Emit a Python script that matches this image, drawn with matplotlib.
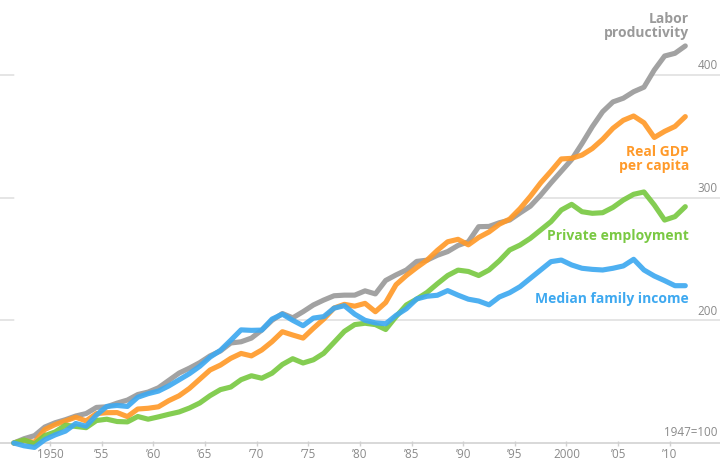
import matplotlib
matplotlib.use("Agg")
import matplotlib.pyplot as plt
import matplotlib.transforms as mtransforms
import numpy as np

years = list(range(1947, 2013))

productivity = [100, 103.5, 106, 113, 116.5, 119, 122, 124, 129, 129.5,
                132.5, 135, 139.5, 141.5, 145, 151, 157, 161, 165.5, 171,
                175, 181.5, 182.5, 185.5, 192, 200, 205.5, 202, 207, 212.5,
                216.5, 220, 220.5, 220.5, 224, 221.5, 232.5, 237, 241, 248,
                249, 253, 256, 261, 264, 276.3, 276.5, 279.5, 281.7, 287.5,
                293, 302, 312, 321.5, 331, 344, 357.8, 370, 378, 381,
                386.3, 390, 404, 415.4, 417.6, 423.6]

gdp_per_capita = [100, 102, 100.5, 111, 115, 118, 121, 118, 124, 124.7,
                  124.8, 121.5, 127.7, 128.3, 129.5, 134.5, 138.5, 144.5, 152, 159.5,
                  163.5, 169, 173, 171, 175.8, 182.6, 190.7, 188, 185.5, 193.5,
                  201, 210, 213, 211.5, 213.8, 207, 214.5, 229, 236.5, 243,
                  249, 257, 264, 266, 261.5, 267.5, 272, 278.3, 282.5, 291,
                  301, 312, 321.5, 331.5, 332, 334.7, 340, 347.5, 356.5, 363,
                  366.5, 361, 349, 354, 358, 366]

private_employment = [100, 102.5, 99.2, 106, 109, 114.5, 113.5, 112.5, 118.3, 119.4,
                      117.5, 117.2, 121.6, 119.4, 121.3, 123.4, 125.3, 128.5, 132.6, 138.6,
                      143.5, 145.6, 151.6, 154.8, 152.8, 156.9, 164, 168.7, 165.2, 167.8,
                      173.1, 182, 191, 196.5, 197.6, 196.5, 192.5, 203, 212.5, 217.3,
                      222.7, 229.8, 236.5, 240.9, 239.8, 236.5, 241, 248.5, 257.3, 261.3,
                      266.8, 273.6, 280.4, 289.9, 294.5, 288.5, 287.2, 287.7, 292, 298,
                      302.7, 304.6, 294, 281.7, 284.5, 292.6]

median_income = [100, 97.7, 96.4, 102.7, 106.6, 109.7, 115.9, 113.7, 122.8, 129.8,
                 130.6, 129.8, 137.3, 140.2, 142.3, 146.5, 151.5, 156.5, 162.5, 170,
                 175.5, 183.7, 192.2, 191.8, 192, 201, 205, 200, 195.6, 201.8,
                 203, 209.9, 211.9, 205, 200, 197.9, 197.2, 204, 209.4, 217.4,
                 219.6, 220.4, 224.2, 220.5, 217.2, 215.7, 212.6, 219, 222.5, 227.4,
                 234.2, 241, 247.8, 249.1, 245.1, 242.4, 241.5, 241, 242.4, 244.3,
                 249.7, 241, 236.1, 232.3, 228.2, 228.2]

tick_years = [1950, 1955, 1960, 1965, 1970, 1975, 1980, 1985, 1990, 1995, 2000, 2005, 2010]
tick_labels = ["1950", "\u201955", "\u201960", "\u201965", "\u201970", "\u201975", "\u201980",
               "\u201985", "\u201990", "\u201995", "2000", "\u201905", "\u201910"]
grid_values = [200, 300, 400]
grid_labels = ["200", "300", "400"]
base_label = "1947=100"

C_GRAY = "#9a9a9a"
C_ORANGE = "#ff9a2a"
C_GREEN = "#7ac943"
C_BLUE = "#3fa9f0"
C_TEXT = "#8a8a8a"

plt.rcParams["font.family"] = ["Open Sans", "DejaVu Sans"]

fig = plt.figure(figsize=(7.2, 4.63), dpi=100)
ax = fig.add_axes([0, 0, 1, 1])
ax.set_xlim(1945.664, 2015.36)
ax.set_ylim(83.70, 461.04)
ax.axis("off")

# gridlines and baseline
for v in grid_values:
    ax.axhline(v, color="#e3e3e3", lw=1.3, zorder=1)
ax.axhline(100, color="#d6d6d6", lw=1.3, zorder=1)
# gridlines hidden above the top series
ax.fill_between(years, productivity, 470, color="white", lw=0, zorder=1.5)

# tick marks and labels
tx = [t + 0.5 for t in tick_years]
ax.vlines(tx, 100 - 3.5 / 1.227, 100 + 1.5 / 1.227, color="#d0d0d0", lw=1.0, zorder=1)
for x, lab in zip(tx, tick_labels):
    ax.text(x, 100 - 11.5 / 1.227, lab, ha="center", va="center",
            fontsize=8.4, color=C_TEXT)

trans = mtransforms.blended_transform_factory(ax.transAxes, ax.transData)
for v, lab in zip(grid_values, grid_labels):
    ax.text(0.997, v + 2.5 / 1.227, lab, transform=trans, ha="right", va="bottom",
            fontsize=8.4, color=C_TEXT)
ax.text(0.997, 100 + 3.5 / 1.227, base_label, transform=trans, ha="right", va="bottom",
        fontsize=8.4, color=C_TEXT)

lw = 3.7
alpha = 0.92
for series, col in [(productivity, C_GRAY), (gdp_per_capita, C_ORANGE),
                    (private_employment, C_GREEN), (median_income, C_BLUE)]:
    ax.plot(years, series, color=col, lw=lw, alpha=alpha, solid_joinstyle="round",
            solid_capstyle="round", zorder=3)

lx = 2012.36
def y_of(px):
    return 100 + (443 - px) / 1.227

lab_kw = dict(ha="right", va="baseline", fontsize=10, fontweight="bold", zorder=5)
ax.text(lx, y_of(23), "Labor", color=C_GRAY, **lab_kw)
ax.text(lx, y_of(37), "productivity", color=C_GRAY, **lab_kw)
ax.text(lx, y_of(156.5), "Real GDP", color=C_ORANGE, **lab_kw)
ax.text(lx, y_of(170.5), "per capita", color=C_ORANGE, **lab_kw)
ax.text(lx, y_of(240.5), "Private employment", color=C_GREEN, **lab_kw)
ax.text(lx, y_of(303.5), "Median family income", color=C_BLUE, **lab_kw)

fig.savefig("out.png", dpi=100)
